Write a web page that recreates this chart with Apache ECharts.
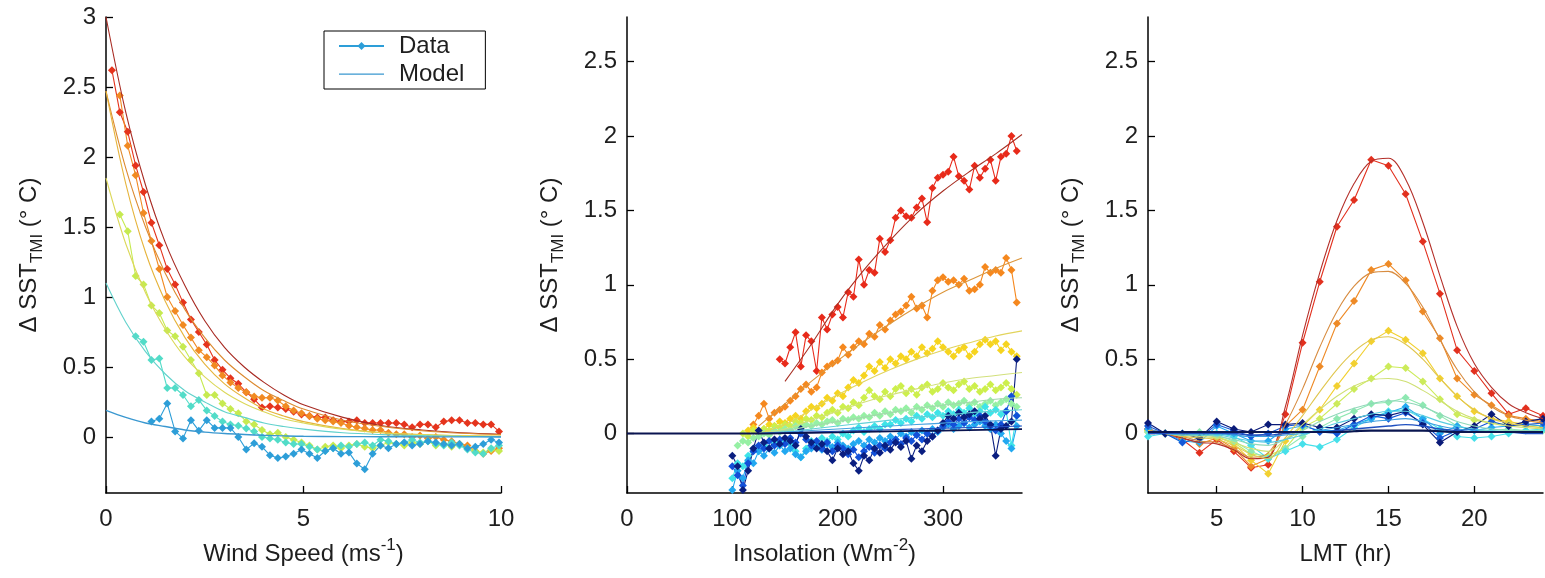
<!DOCTYPE html>
<html>
<head>
<meta charset="utf-8">
<script src="https://cdn.jsdelivr.net/npm/echarts@6/dist/echarts.min.js"></script>
<style>html,body{margin:0;padding:0;background:#fff}#c{width:1545px;height:578px}</style>
</head>
<body>
<div id="c"></div>
<script>
// ---------- Panel 1: Wind speed ----------
const windX = [0.15,0.35,0.55,0.75,0.95,1.15,1.35,1.55,1.75,1.95,2.15,2.35,2.55,2.75,2.95,3.15,3.35,3.55,3.75,3.95,4.15,4.35,4.55,4.75,4.95,5.15,5.35,5.55,5.75,5.95,6.15,6.35,6.55,6.75,6.95,7.15,7.35,7.55,7.75,7.95,8.15,8.35,8.55,8.75,8.95,9.15,9.35,9.55,9.75,9.95];
const windRed = [2.62,2.32,2.18,1.94,1.75,1.53,1.37,1.20,1.09,0.96,0.84,0.75,0.66,0.55,0.48,0.42,0.38,0.32,0.27,0.21,0.22,0.21,0.20,0.18,0.16,0.15,0.14,0.14,0.12,0.11,0.11,0.12,0.10,0.10,0.10,0.10,0.10,0.09,0.07,0.09,0.09,0.07,0.11,0.12,0.12,0.10,0.10,0.09,0.09,0.04];
const windOrange = [null,2.44,2.08,1.87,1.60,1.40,1.20,1.00,0.90,0.80,0.71,0.62,0.57,0.51,0.44,0.39,0.35,0.32,0.29,0.28,0.28,0.26,0.22,0.19,0.17,0.15,0.13,0.12,0.11,0.10,0.08,0.07,0.06,0.05,0.05,0.03,0.02,0.02,0.00,0.01,-0.01,0.00,-0.02,-0.03,-0.05,-0.06,-0.10,-0.12,-0.10,-0.08];
const windYG = [null,1.59,1.47,1.15,1.09,0.94,0.885,0.76,0.72,0.645,0.55,0.455,0.30,0.30,0.24,0.20,0.17,0.11,0.09,0.05,0.02,0.03,0.00,-0.02,-0.04,-0.06,-0.09,-0.07,-0.06,-0.08,-0.06,-0.05,-0.07,-0.08,-0.06,-0.04,-0.05,-0.06,-0.04,-0.05,-0.03,-0.06,-0.05,-0.07,-0.05,-0.08,-0.10,-0.11,-0.09,-0.10];
const windCyan = [null,null,null,0.72,0.68,0.55,0.56,0.35,0.35,0.30,0.22,0.265,0.19,0.15,0.11,0.09,0.08,0.06,0.04,0.00,-0.01,-0.02,-0.04,-0.05,-0.05,-0.07,-0.09,-0.10,-0.08,-0.06,-0.07,-0.05,-0.04,-0.06,-0.02,-0.03,-0.05,-0.04,-0.02,-0.04,-0.03,-0.05,-0.06,-0.04,-0.06,-0.09,-0.11,-0.12,-0.08,-0.06];
const windBlue = [null,null,null,null,null,0.11,0.13,0.24,0.04,-0.01,0.12,0.045,0.12,0.065,0.065,0.065,0.00,-0.09,-0.045,-0.07,-0.13,-0.15,-0.14,-0.12,-0.09,-0.12,-0.15,-0.10,-0.08,-0.12,-0.11,-0.19,-0.23,-0.12,-0.06,-0.08,-0.05,-0.04,-0.06,-0.05,-0.03,-0.04,-0.05,-0.06,-0.05,-0.08,-0.07,-0.05,-0.02,-0.04];

const windModelX = [0,0.5,1,1.5,2,2.5,3,3.5,4,4.5,5,6,7,8,9,10];
const wmDarkRed = [3.00,2.32,1.80,1.39,1.08,0.83,0.64,0.50,0.39,0.30,0.23,0.14,0.08,0.05,0.03,0.02];
const wmOrange = [2.47,1.92,1.50,1.17,0.91,0.71,0.55,0.43,0.33,0.26,0.20,0.12,0.075,0.045,0.027,0.017];
const wmYellowOrange = [2.47,1.81,1.32,0.97,0.71,0.52,0.38,0.28,0.20,0.15,0.11,0.06,0.03,0.017,0.009,0.005];
const wmYellow = [1.85,1.38,1.03,0.77,0.57,0.43,0.32,0.24,0.18,0.13,0.10,0.055,0.03,0.017,0.01,0.005];
const wmCyan = [1.10,0.82,0.61,0.45,0.33,0.25,0.18,0.14,0.10,0.075,0.056,0.03,0.017,0.01,0.005,0.003];
const wmBlue = [0.19,0.14,0.10,0.075,0.05,0.035,0.025,0.018,0.012,0.008,0.005,0.003,0.002,0.001,0.001,0.0];

// ---------- Panel 2: Insolation ----------
const insolX = [100,105,110,115,120,125,130,135,140,145,150,155,160,165,170,175,180,185,190,195,200,205,210,215,220,225,230,235,240,245,250,255,260,265,270,275,280,285,290,295,300,305,310,315,320,325,330,335,340,345,350,355,360,365,370];
const insolRed = [null,null,null,null,null,null,null,null,null,0.50,0.47,0.58,0.68,0.45,0.66,0.62,0.42,0.78,0.70,0.80,0.85,0.78,0.95,0.92,1.17,1.00,1.10,1.08,1.31,1.22,1.30,1.45,1.50,1.46,1.45,1.52,1.58,1.42,1.65,1.72,1.74,1.76,1.86,1.73,1.70,1.64,1.80,1.72,1.78,1.84,1.70,1.86,1.88,2.00,1.90];
const insolOrange = [null,null,null,null,0.06,0.12,0.20,0.10,0.14,0.16,0.18,0.22,0.25,0.30,0.33,0.28,0.31,0.41,0.45,0.47,0.49,0.58,0.53,0.58,0.62,0.60,0.67,0.65,0.73,0.70,0.76,0.80,0.82,0.86,0.92,0.84,0.86,0.78,0.96,1.03,1.05,1.02,1.03,1.00,1.04,0.96,0.97,1.00,1.12,1.08,1.10,1.08,1.18,1.10,0.88];
const insolYellow = [null,null,null,0.02,0.04,0.00,0.03,0.06,0.05,0.08,0.07,0.10,0.12,0.10,0.15,0.18,0.17,0.20,0.24,0.22,0.27,0.25,0.31,0.36,0.34,0.39,0.45,0.42,0.48,0.44,0.50,0.47,0.52,0.50,0.55,0.52,0.58,0.54,0.57,0.62,0.58,0.55,0.52,0.56,0.58,0.52,0.55,0.60,0.63,0.60,0.62,0.56,0.60,0.55,0.52];
const insolYG = [null,null,0.00,-0.02,0.02,0.00,0.03,0.02,0.05,0.04,0.06,0.05,0.08,0.07,0.10,0.09,0.12,0.11,0.14,0.16,0.14,0.18,0.17,0.21,0.19,0.24,0.29,0.25,0.23,0.28,0.25,0.30,0.32,0.27,0.30,0.26,0.31,0.33,0.28,0.30,0.34,0.31,0.29,0.33,0.35,0.30,0.32,0.28,0.30,0.33,0.29,0.31,0.34,0.30,0.26];
const insolGreen = [null,-0.08,-0.05,-0.06,-0.03,-0.02,0.00,-0.01,0.02,0.01,0.03,0.02,0.05,0.04,0.06,0.05,0.07,0.06,0.08,0.09,0.07,0.10,0.09,0.11,0.10,0.12,0.11,0.14,0.12,0.15,0.13,0.16,0.15,0.17,0.14,0.18,0.16,0.19,0.17,0.20,0.18,0.21,0.19,0.20,0.22,0.19,0.21,0.18,0.20,0.22,0.19,0.21,0.23,0.20,0.18];
const insolCyan = [-0.30,-0.20,-0.22,-0.15,-0.10,-0.12,-0.08,-0.10,-0.06,-0.08,-0.05,-0.07,-0.12,-0.16,-0.10,-0.05,-0.07,-0.03,-0.05,-0.02,-0.04,0.00,-0.02,0.02,0.04,0.01,0.03,0.05,0.03,0.06,0.06,0.09,0.07,0.10,0.08,0.12,0.10,0.13,0.11,0.14,0.12,0.15,0.13,0.16,0.14,0.17,0.13,0.15,0.18,0.14,0.16,0.13,0.15,-0.08,0.12];
const insolLightBlue = [-0.38,-0.25,-0.30,-0.18,-0.20,-0.12,-0.15,-0.10,-0.13,-0.08,-0.12,-0.10,-0.14,-0.16,-0.12,-0.10,-0.08,-0.11,-0.07,-0.09,-0.06,-0.08,-0.10,-0.07,-0.05,-0.08,-0.04,-0.06,-0.03,-0.05,-0.02,-0.04,0.00,-0.02,0.01,-0.01,0.02,0.00,0.03,0.01,0.04,0.06,0.03,0.05,0.07,0.04,0.06,0.08,0.05,0.03,0.06,0.00,-0.05,-0.10,0.05];
const insolBlue = [-0.22,-0.28,-0.35,-0.20,-0.12,-0.08,-0.10,-0.05,-0.08,-0.04,-0.07,-0.03,-0.06,0.00,-0.04,-0.08,-0.05,-0.10,-0.06,-0.12,-0.08,-0.10,-0.14,-0.11,-0.16,-0.12,-0.09,-0.13,-0.08,-0.10,-0.06,-0.04,-0.07,-0.03,-0.05,-0.01,-0.04,0.00,-0.02,0.02,0.05,0.08,0.06,0.10,0.07,0.11,0.09,0.12,0.08,0.05,0.02,0.06,0.15,0.25,0.12];
const insolNavy = [-0.15,-0.22,-0.38,-0.25,-0.10,0.02,-0.06,-0.10,-0.04,-0.07,-0.03,-0.05,-0.08,0.03,-0.02,-0.06,-0.10,-0.07,-0.12,-0.18,-0.10,-0.14,-0.12,-0.20,-0.25,-0.15,-0.18,-0.10,-0.13,-0.08,-0.11,-0.06,-0.09,-0.05,-0.17,-0.08,-0.12,-0.05,-0.02,0.02,0.07,0.12,0.10,0.14,0.11,0.13,0.15,0.10,0.12,0.06,-0.15,0.03,0.05,0.08,0.50];

const insolModelX = [0,100,125,150,175,200,225,250,275,300,325,350,375];
const imRed = [null,null,null,0.35,0.60,0.87,1.10,1.30,1.48,1.63,1.76,1.88,2.01];
const imOrange = [null,null,0.05,0.20,0.35,0.49,0.62,0.74,0.85,0.95,1.03,1.11,1.18];
const imYellow = [null,null,0.00,0.06,0.16,0.26,0.35,0.43,0.50,0.56,0.61,0.655,0.69];
const imYG = [null,null,0.00,0.03,0.09,0.15,0.21,0.26,0.30,0.34,0.37,0.39,0.41];
const imGreen = [null,null,0,0.02,0.05,0.08,0.11,0.14,0.17,0.19,0.21,0.23,0.24];
const imCyan = [null,null,0,0.01,0.03,0.05,0.07,0.09,0.11,0.12,0.14,0.15,0.16];
const imLightBlue = [null,null,0,0.01,0.02,0.03,0.04,0.05,0.06,0.07,0.08,0.085,0.09];
const imBlue = [null,null,0,0.005,0.01,0.015,0.02,0.025,0.03,0.035,0.04,0.045,0.05];
const imNavy = [0,0,0,0.002,0.005,0.008,0.011,0.014,0.017,0.02,0.023,0.026,0.03];

// ---------- Panel 3: Local mean time ----------
const hours = [1,2,3,4,5,6,7,8,9,10,11,12,13,14,15,16,17,18,19,20,21,22,23,24];
const lmtRed = [0.03,0.0,-0.04,-0.13,-0.04,-0.12,-0.23,-0.21,0.13,0.61,1.02,1.39,1.57,1.84,1.80,1.61,1.29,0.94,0.56,0.42,0.27,0.13,0.17,0.12];
const lmtOrange = [0.03,0.0,-0.03,-0.07,-0.03,-0.10,-0.22,-0.17,0.05,0.16,0.45,0.74,0.89,1.10,1.14,1.03,0.82,0.64,0.37,0.26,0.19,0.12,0.10,0.08];
const lmtYellow = [0.02,0.0,-0.02,-0.01,-0.02,-0.07,-0.18,-0.27,-0.05,0.05,0.16,0.32,0.47,0.62,0.69,0.63,0.54,0.37,0.25,0.15,0.10,0.08,0.06,0.05];
const lmtYG = [0.01,0.0,-0.01,0.0,-0.02,-0.06,-0.14,-0.15,-0.10,0.04,0.10,0.20,0.30,0.37,0.45,0.44,0.35,0.23,0.13,0.09,0.07,0.06,0.05,0.04];
const lmtGreen = [0.01,0.0,-0.01,0.01,-0.01,-0.05,-0.12,-0.17,-0.10,-0.02,0.04,0.10,0.15,0.20,0.21,0.24,0.19,0.12,0.05,0.02,0.02,0.03,0.02,0.02];
const lmtCyan = [-0.02,0.0,0.0,-0.01,0.0,-0.02,-0.08,-0.17,-0.12,-0.07,-0.09,-0.04,0.04,0.10,0.15,0.16,0.10,0.03,-0.02,-0.03,-0.02,0.0,0.02,0.03];
const lmtLightBlue = [0.03,0.0,-0.05,-0.06,0.05,0.0,-0.05,-0.05,0.03,0.05,0.02,0.02,0.06,0.10,0.14,0.18,0.10,0.0,0.05,0.02,0.04,0.05,0.06,0.05];
const lmtBlue = [0.05,0.0,-0.06,-0.03,0.06,0.02,-0.02,0.0,0.05,0.06,0.01,0.0,0.06,0.12,0.10,0.14,0.07,-0.03,0.02,0.03,0.08,0.05,0.06,0.07];
const lmtNavy = [0.07,0.0,0.0,-0.03,0.08,0.03,0.01,0.06,0.06,0.07,0.04,0.04,0.10,0.13,0.12,0.15,0.06,-0.06,0.01,0.05,0.13,0.05,0.08,0.10];

const lmRed = [0.02,0.0,-0.03,-0.06,-0.07,-0.11,-0.17,-0.16,0.18,0.66,1.08,1.43,1.68,1.83,1.85,1.71,1.42,1.06,0.72,0.47,0.31,0.20,0.14,0.10];
const lmOrange = [0.02,0.0,-0.02,-0.05,-0.06,-0.10,-0.16,-0.13,0.06,0.30,0.58,0.82,0.99,1.08,1.09,1.01,0.85,0.63,0.43,0.28,0.18,0.12,0.09,0.07];
const lmYellow = [0.02,0.0,-0.02,-0.03,-0.04,-0.08,-0.14,-0.17,-0.03,0.12,0.28,0.43,0.55,0.63,0.65,0.60,0.50,0.37,0.25,0.16,0.10,0.07,0.05,0.04];
const lmYG = [0.01,0,-0.01,-0.02,-0.03,-0.06,-0.10,-0.12,-0.04,0.06,0.16,0.25,0.32,0.36,0.37,0.35,0.29,0.22,0.15,0.10,0.07,0.05,0.04,0.03];
const lmGreen = [0.01,0,-0.01,-0.01,-0.02,-0.04,-0.07,-0.08,-0.04,0.02,0.08,0.13,0.17,0.20,0.22,0.21,0.18,0.13,0.08,0.05,0.03,0.02,0.02,0.01];
const lmCyan = [0.0,0,-0.01,-0.01,-0.01,-0.03,-0.05,-0.06,-0.04,-0.01,0.03,0.07,0.10,0.13,0.15,0.15,0.12,0.08,0.05,0.03,0.02,0.01,0.01,0.01];
const lmLightBlue = [0,0,0,0,0,-0.01,-0.02,-0.02,-0.01,0,0.02,0.04,0.06,0.08,0.09,0.10,0.08,0.05,0.03,0.02,0.01,0.01,0.01,0];
const lmBlue = [0,0,0,0,0,0,-0.01,-0.01,0,0.01,0.01,0.02,0.03,0.04,0.05,0.06,0.05,0.03,0.02,0.01,0.01,0.01,0,0];
const lmNavy = [0.01,0.01,0.01,0.01,0.01,0.01,0.01,0.01,0.01,0.01,0.01,0.01,0.015,0.02,0.02,0.02,0.02,0.015,0.01,0.01,0.01,0.01,0.01,0.01];

// tick labels
const windTicks = [0,5,10];
const insolTicks = [0,100,200,300];
const lmtTicks = [5,10,15,20];
const yTicks1 = [0,0.5,1,1.5,2,2.5,3];
const yTicks23 = [0,0.5,1,1.5,2,2.5];

// ---------- build ----------
const FONT = '"Liberation Sans", Arial, Helvetica, sans-serif';
const TXT = '#1e1e1e';
function xy(xs, ys) { return xs.map((x, i) => [x, ys[i]]); }
function dataS(name, ax, xs, ys, color, size) {
  return { name, type: 'line', xAxisIndex: ax, yAxisIndex: ax, data: xy(xs, ys),
    symbol: 'diamond', symbolSize: size, showAllSymbol: true, connectNulls: false,
    lineStyle: { color, width: 1.1 }, itemStyle: { color }, emphasis: { disabled: true }, z: 2 };
}
function modelS(name, ax, xs, ys, color, width) {
  return { name, type: 'line', xAxisIndex: ax, yAxisIndex: ax, data: xy(xs, ys),
    symbol: 'none', smooth: 0.35, connectNulls: false,
    lineStyle: { color, width: width || 1.1 }, itemStyle: { color }, emphasis: { disabled: true }, z: 3 };
}
const yName = '{a|Δ SST}{s|TMI}{a| (° C)}';
const nameRich = {
  a: { fontSize: 24, lineHeight: 34, fontFamily: FONT, color: TXT },
  s: { fontSize: 17, lineHeight: 17, verticalAlign: 'bottom', fontFamily: FONT, color: TXT },
  p: { fontSize: 17, lineHeight: 17, verticalAlign: 'top', fontFamily: FONT, color: TXT }
};
function xAx(idx, min, max, ticks, name) {
  return { type: 'value', gridIndex: idx, min, max, name, nameLocation: 'middle', nameGap: 44,
    nameTextStyle: { rich: nameRich },
    axisLine: { onZero: false, lineStyle: { color: '#000', width: 1.5 } },
    axisTick: { inside: true, length: 7, customValues: ticks, lineStyle: { color: '#000', width: 1.3 } },
    axisLabel: { customValues: ticks, margin: 14, fontSize: 24, color: TXT, fontFamily: FONT },
    splitLine: { show: false } };
}
function yAx(idx, min, max, ticks) {
  return { type: 'value', gridIndex: idx, min, max, name: yName, nameLocation: 'middle', nameGap: 60, nameRotate: 90,
    nameTextStyle: { rich: nameRich },
    axisLine: { onZero: false, lineStyle: { color: '#000', width: 1.5 } },
    axisTick: { inside: true, length: 7, customValues: ticks, lineStyle: { color: '#000', width: 1.3 } },
    axisLabel: { customValues: ticks, margin: 10, fontSize: 24, color: TXT, fontFamily: FONT },
    splitLine: { show: false } };
}

const series = [
  // panel 1
  dataS('w-red', 0, windX, windRed, '#e5341d', 8),
  modelS('w-m-darkred', 0, windModelX, wmDarkRed, '#a82a22'),
  dataS('w-orange', 0, windX, windOrange, '#f18a22', 8),
  modelS('w-m-orange', 0, windModelX, wmOrange, '#dc8a30'),
  modelS('w-m-yelloworange', 0, windModelX, wmYellowOrange, '#e6b43c'),
  dataS('w-yg', 0, windX, windYG, '#c6ea50', 8),
  modelS('w-m-yellow', 0, windModelX, wmYellow, '#dcd85a'),
  dataS('w-cyan', 0, windX, windCyan, '#52dcc8', 8),
  modelS('w-m-cyan', 0, windModelX, wmCyan, '#62d2cc'),
  dataS('Data', 0, windX, windBlue, '#2d9ed8', 8),
  modelS('Model', 0, windModelX, wmBlue, '#3a98d0', 1.4),
  // panel 2
  dataS('i-red', 1, insolX, insolRed, '#e82a1a', 8),
  modelS('i-m-red', 1, insolModelX, imRed, '#a83024'),
  dataS('i-orange', 1, insolX, insolOrange, '#f5881e', 8),
  modelS('i-m-orange', 1, insolModelX, imOrange, '#dc963c'),
  dataS('i-yellow', 1, insolX, insolYellow, '#f6d41f', 8),
  modelS('i-m-yellow', 1, insolModelX, imYellow, '#e2d45c'),
  dataS('i-yg', 1, insolX, insolYG, '#cdef4c', 8),
  modelS('i-m-yg', 1, insolModelX, imYG, '#d2e07c'),
  dataS('i-green', 1, insolX, insolGreen, '#96f0a4', 8),
  modelS('i-m-green', 1, insolModelX, imGreen, '#a2d8ac'),
  dataS('i-cyan', 1, insolX, insolCyan, '#3ee4e8', 8),
  modelS('i-m-cyan', 1, insolModelX, imCyan, '#62d0d8'),
  dataS('i-lightblue', 1, insolX, insolLightBlue, '#22a8f0', 8),
  modelS('i-m-lightblue', 1, insolModelX, imLightBlue, '#46a2e0'),
  dataS('i-blue', 1, insolX, insolBlue, '#1250d8', 8),
  modelS('i-m-blue', 1, insolModelX, imBlue, '#2452c2'),
  dataS('i-navy', 1, insolX, insolNavy, '#0a1e80', 8),
  modelS('i-m-navy', 1, insolModelX, imNavy, '#0a1450', 1.8),
  // panel 3
  dataS('h-red', 2, hours, lmtRed, '#e2301e', 8),
  modelS('h-m-red', 2, hours, lmRed, '#b4302a'),
  dataS('h-orange', 2, hours, lmtOrange, '#ee8a26', 8),
  modelS('h-m-orange', 2, hours, lmOrange, '#d88c40'),
  dataS('h-yellow', 2, hours, lmtYellow, '#f2d030', 8),
  modelS('h-m-yellow', 2, hours, lmYellow, '#e0c64e'),
  dataS('h-yg', 2, hours, lmtYG, '#cceb5a', 8),
  modelS('h-m-yg', 2, hours, lmYG, '#cfe074'),
  dataS('h-green', 2, hours, lmtGreen, '#8ee8b2', 8),
  modelS('h-m-green', 2, hours, lmGreen, '#8ed8b8'),
  dataS('h-cyan', 2, hours, lmtCyan, '#46e0ea', 8),
  modelS('h-m-cyan', 2, hours, lmCyan, '#58cce0'),
  dataS('h-lightblue', 2, hours, lmtLightBlue, '#24aaf0', 8),
  modelS('h-m-lightblue', 2, hours, lmLightBlue, '#3c9ee0'),
  dataS('h-blue', 2, hours, lmtBlue, '#1458d8', 8),
  modelS('h-m-blue', 2, hours, lmBlue, '#1f50c0', 1.4),
  dataS('h-navy', 2, hours, lmtNavy, '#0a1a78', 8),
  modelS('h-m-navy', 2, hours, lmNavy, '#0a1650', 2.2)
];

// legend icon for the model: a plain horizontal line (tiny corner dots only fix the box)
const lineIcon = 'path://M0,4.4h45v1.3h-45z M0,0h0.05v0.05h-0.05z M44.95,9.95h0.05v0.05h-0.05z';

const option = {
  animation: false,
  backgroundColor: '#fff',
  grid: [
    { left: 106, top: 17, width: 395, height: 476 },
    { left: 627, top: 17, width: 395, height: 476 },
    { left: 1148, top: 17, width: 395, height: 476 }
  ],
  xAxis: [
    xAx(0, 0, 10, windTicks, '{a|Wind Speed (ms}{p|-1}{a|)}'),
    xAx(1, 0, 375, insolTicks, '{a|Insolation (Wm}{p|-2}{a|)}'),
    xAx(2, 1, 24, lmtTicks, '{a|LMT (hr)}')
  ],
  yAxis: [
    yAx(0, -0.4, 3, yTicks1),
    yAx(1, -0.4, 2.8, yTicks23),
    yAx(2, -0.4, 2.8, yTicks23)
  ],
  legend: {
    data: [{ name: 'Data' }, { name: 'Model', icon: lineIcon }],
    orient: 'vertical', left: 324, top: 31,
    itemWidth: 45, itemHeight: 10, itemGap: 4, padding: [3, 21, 3, 14],
    borderColor: '#000', borderWidth: 1, backgroundColor: '#fff', selectedMode: false,
    textStyle: { fontSize: 24, color: TXT, fontFamily: FONT, padding: [0, 0, 0, 10] }
  },
  series
};
const chart = echarts.init(document.getElementById('c'), null, { renderer: 'canvas' });
chart.setOption(option);
</script>
</body>
</html>
